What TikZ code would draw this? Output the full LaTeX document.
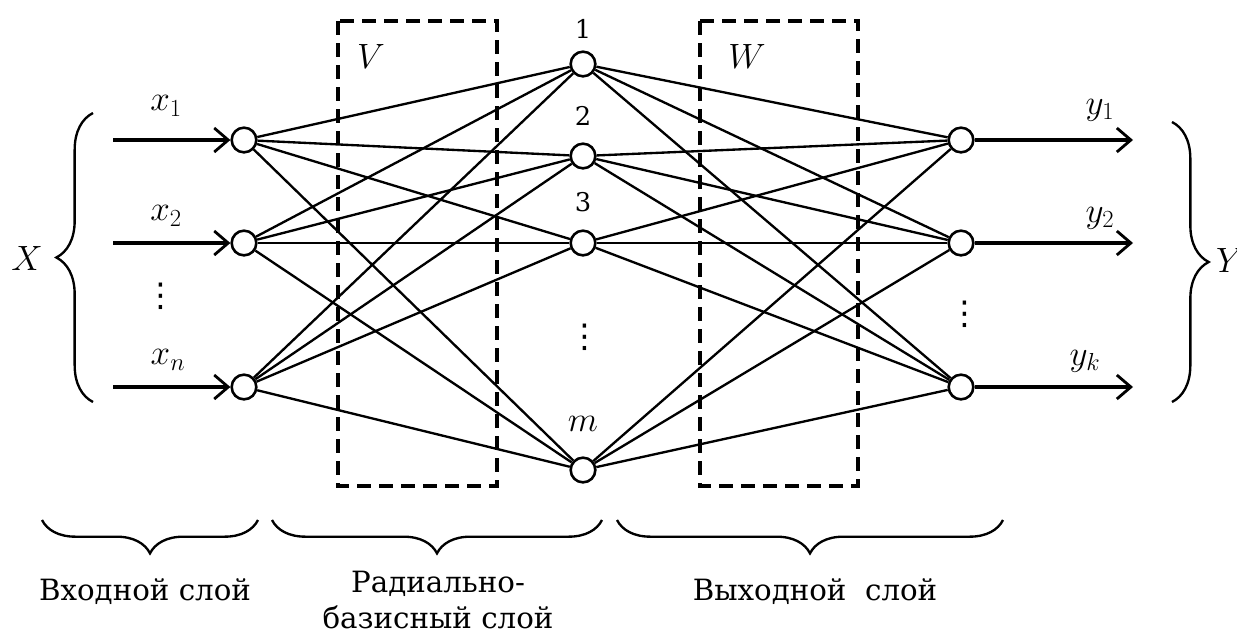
\RequirePackage{fix-cm}
\documentclass[tikz,border=0pt]{standalone}
\usepackage{amsmath,amssymb}
\usepackage{fontspec}
\setmainfont{DejaVu Serif}
\newfontfamily\dotsfont{DejaVu Sans}
\usetikzlibrary{arrows.meta,decorations.pathreplacing}

\begin{document}
\begin{tikzpicture}[x=0.03cm, y=-0.03cm, every node/.style={font=\fontsize{25}{31}\selectfont},
	neuron/.style={circle, draw, line width=2.2pt, minimum size=0.74cm, inner sep=0pt, fill=white},
	link/.style={line width=2pt},
	signal/.style={line width=3.2pt, -{Straight Barb[length=0.42cm, width=0.72cm, line width=2.4pt]}},
	mathlbl/.style={font=\fontsize{30}{34}\selectfont},
	numlbl/.style={font=\fontsize{22}{26}\selectfont},
	vdotlbl/.style={font=\dotsfont\fontsize{28}{30}\selectfont},
	wbox/.style={line width=2.6pt, dash pattern=on 0.42cm off 0.24cm},
	bigbrace/.style={decorate, decoration={brace, amplitude=#1}, line width=2pt}]
	\useasboundingbox (0,0) rectangle (1237,635);
	\draw[wbox] (338,21) rectangle (497,486);
	\draw[wbox] (700,21) rectangle (858,486);
	\node[mathlbl] (lV) at (371,56) {$V$};
	\node[mathlbl] (lW) at (747,56) {$W$};
	\node[neuron] (i1) at (244,140) {};
	\node[neuron] (i2) at (244,243) {};
	\node[neuron] (i3) at (244,387) {};
	\node[neuron] (r1) at (583,64) {};
	\node[neuron] (r2) at (583,156) {};
	\node[neuron] (r3) at (583,243) {};
	\node[neuron] (rm) at (583,470) {};
	\node[neuron] (o1) at (961,140) {};
	\node[neuron] (o2) at (961,243) {};
	\node[neuron] (o3) at (961,387) {};
	\foreach \a in {i1,i2,i3} \foreach \b in {r1,r2,r3,rm} \draw[link] (\a) -- (\b);
	\foreach \a in {r1,r2,r3,rm} \foreach \b in {o1,o2,o3} \draw[link] (\a) -- (\b);
	\foreach \n/\y in {1/140,2/243,3/387} {
		\coordinate (s\n) at (113,\y);
		\coordinate (t\n) at (1133,\y);
		\draw[signal] (s\n) -- (i\n);
		\draw[signal] (o\n) -- (t\n);
	}
	\node[mathlbl] (lx1) at (166,106) {$x_{1}$};
	\node[mathlbl] (lx2) at (166,216) {$x_{2}$};
	\node[mathlbl] (lxn) at (168,360) {$x_{n}$};
	\node[mathlbl] (ly1) at (1100,110) {$y_{1}$};
	\node[mathlbl] (ly2) at (1100,218) {$y_{2}$};
	\node[mathlbl] (lyk) at (1085,361) {$y_k$};
	\node[vdotlbl] (dx) at (161,296) {⋮};
	\node[vdotlbl] (dr) at (585,337) {⋮};
	\node[vdotlbl] (dy) at (965,314) {⋮};
	\node[numlbl] (n1) at (583,29) {1};
	\node[numlbl] (n2) at (583,116) {2};
	\node[numlbl] (n3) at (583,202) {3};
	\node[mathlbl] (nm) at (583,424) {$m$};
	\draw[bigbrace=1.1cm] (93,402) -- (93,113);
	\draw[bigbrace=1.1cm] (1172,122) -- (1172,402);
	\node[mathlbl] (lX) at (27,258) {$X$};
	\node[mathlbl] (lY) at (1230,260) {$Y$};
	\draw[bigbrace=1.0cm] (258,520) -- (42,520);
	\draw[bigbrace=1.0cm] (602,520) -- (272,520);
	\draw[bigbrace=1.0cm] (1003,520) -- (617,520);
	\node (lin) at (145,592) {Входной слой};
	\node[align=center] (lrb) at (438,600) {Радиально-\\базисный слой};
	\node (lout) at (815,592) {Выходной\ \ слой};
\end{tikzpicture}
\end{document}
